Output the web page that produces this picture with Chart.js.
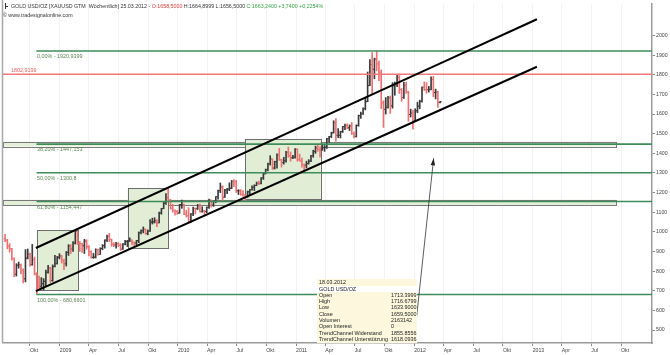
<!DOCTYPE html>
<html><head><meta charset="utf-8">
<script src="https://cdn.jsdelivr.net/npm/chart.js@4.4.1/dist/chart.umd.min.js"></script>
<style>html,body{margin:0;padding:0;background:#fff}#wrap{position:relative;width:670px;height:355px}</style>
</head><body><div id="wrap"><canvas id="c" width="670" height="355"></canvas></div>
<script>
// ---------- DATA ----------
const firstWeekFriday = '2008-07-18';   // weekly bars, one per week from here
const openP = [965,957,928,913,864,785,830,833,806,761,866,886,833,859,786,724,722,736,748,794,815,752,823,838,871,
878,854,838,896,928,913,942,1002,942,940,930,953,925,898,870,870,910,885,915,930,958,978,962,937,933,940,932,912,937,951,954,958,947,944,955,996,1006,1013,991,1003,1050,1051,1056,1046,1096,1118,1146,1175,1162,1120,1110,1104,
1096,1138,1140,1091,1082,1050,1092,1120,1118,1133,1103,1107,1104,1125,1162,1137,1156,1180,1210,1228,1177,1213,1218,1222,1256,1256,1209,1210,1190,1189,1181,1204,1215,1228,1236,1247,1246,1275,1296,1317,1346,1372,1325,1358,1393,1367,1353,1362,1405,1386,1377,1380,
1421,1368,1361,1342,1340,1348,1360,1388,1409,1428,1420,1418,1429,1429,1474,1486,1504,1556,1491,1492,1510,1536,1542,1530,1539,1501,1486,1542,1592,1601,1628,1663,1745,1852,1828,1880,1856,1813,1657,1624,1635,1682,1642,1745,1756,1788,1724,1684,1746,1712,1598,1606,
1566,1617,1640,1665,1736,1725,1724,1725,1776,1710,1713.3999,1658.5];
const highP = [988,962,940,916,868,838,846,836,812,910,913,892,936,872,792,775,767,762,805,829,820,832,881,875,889,
880,862,900,935,935,950,1007,1002,950,943,962,960,930,904,890,914,912,919,935,960,984,992,964,945,947,945,940,940,957,957,970,960,948,957,1000,1010,1025,1015,1010,1062,1070,1072,1062,1101,1120,1154,1195,1226,1165,1140,1112,1110,
1140,1162,1141,1110,1123,1093,1126,1122,1140,1141,1128,1110,1127,1167,1162,1157,1180,1213,1249,1235,1217,1222,1250,1262,1266,1262,1215,1216,1210,1190,1208,1216,1235,1240,1254,1259,1277,1300,1320,1350,1388,1372,1360,1398,1425,1370,1380,1410,1432,1407,1390,1424,
1423,1396,1376,1346,1360,1368,1390,1416,1437,1445,1435,1447,1440,1476,1487,1508,1566,1577,1526,1513,1537,1549,1550,1545,1557,1510,1545,1595,1610,1632,1682,1814,1877,1913,1885,1921,1870,1825,1668,1684,1690,1692,1760,1763,1802,1796,1730,1762,1763,1716,1625,1620,
1627,1661,1671,1739,1764,1760,1741,1790,1792,1727,1716.6799,1664.8999];
const lowP = [950,914,897,856,772,775,815,786,740,745,862,825,830,780,681,700,712,705,726,790,741,748,822,836,862,
841,808,826,880,890,900,938,936,900,895,890,912,877,866,865,867,881,885,909,917,950,951,927,925,917,925,905,910,933,925,950,935,930,935,945,990,995,988,985,1002,1040,1045,1026,1045,1090,1118,1140,1160,1116,1100,1085,1089,
1094,1120,1088,1076,1044,1048,1083,1091,1114,1100,1100,1088,1098,1120,1126,1130,1148,1167,1200,1160,1175,1195,1210,1220,1230,1200,1190,1186,1180,1157,1175,1190,1213,1210,1235,1240,1244,1267,1295,1310,1340,1318,1320,1325,1364,1330,1345,1355,1380,1360,1373,1376,
1360,1360,1330,1308,1326,1345,1358,1380,1400,1410,1380,1415,1410,1425,1455,1480,1503,1462,1480,1478,1506,1520,1525,1516,1496,1478,1483,1538,1578,1598,1621,1663,1745,1702,1780,1820,1770,1628,1532,1600,1630,1603,1630,1696,1740,1705,1665,1680,1705,1563,1585,1523,
1566,1607,1627,1660,1720,1706,1712,1723,1688,1677,1633.9,1656.5];
const closeP = [957,928,913,864,785,830,833,806,761,866,886,833,859,786,724,722,736,748,794,815,752,823,838,871,878,
854,838,896,928,913,942,1002,942,940,930,953,925,898,870,872,910,885,915,930,958,978,962,937,933,940,932,912,937,951,954,958,947,944,955,996,1006,1013,991,1003,1050,1051,1056,1046,1096,1118,1146,1175,1162,1120,1110,1104,1096,
1138,1140,1091,1082,1050,1092,1120,1118,1133,1103,1107,1104,1125,1162,1137,1156,1180,1210,1228,1177,1213,1218,1222,1256,1255,1209,1210,1190,1189,1181,1204,1215,1228,1236,1247,1246,1275,1296,1317,1346,1372,1325,1358,1393,1367,1353,1362,1405,1386,1377,1380,1421,
1368,1361,1342,1340,1348,1360,1388,1409,1428,1420,1418,1429,1432,1474,1486,1504,1556,1491,1492,1510,1536,1542,1530,1539,1501,1486,1542,1592,1601,1628,1663,1745,1852,1828,1880,1856,1813,1657,1624,1635,1682,1642,1745,1756,1788,1724,1684,1746,1712,1598,1606,1566,
1617,1640,1665,1736,1725,1724,1725,1776,1710,1712,1659.5,1663.24];

const fibLevels = [1920.9399, 1447.153, 1300.8, 1154.447, 680.6601];
const fibLabels = ['0,00% - 1920,9399', '38,20% - 1447,153', '50,00% - 1300,8', '61,80% - 1154,447', '100,00% - 680,6601'];
const fibStartDate = '2008-10-21';
const resistanceLevel = 1802.9199;
const resistanceLabel = '1802,9199';

// Fibonacci bands (price from/to) and their end date
const bandLow  = [1435, 1136];
const bandHigh = [1459, 1164];
const bandEndDate = '2013-09-15';

// consolidation boxes
const boxFrom = ['2008-10-22', '2009-07-30', '2010-07-27'];
const boxTo   = ['2009-02-26', '2009-12-01', '2011-03-18'];
const boxLow  = [702, 916, 1165];
const boxHigh = [1008, 1224, 1473];

// trend channel (dates and values)
const channelDates = ['2008-10-19', '2012-03-18', '2013-01-14'];
const channelUpper = [918, 1855.8556, 2083];
const channelLower = [698, 1618.0936, 1841];

// arrow from info box to the last bars
const arrowDates = ['2011-12-31', '2012-03-01'];
const arrowValues = [440, 1375];

// axis ticks
const yTickValues = [500,600,700,800,900,1000,1100,1200,1300,1400,1500,1600,1700,1800,1900,2000];
const quarterNames = ['Apr','Jul','Okt'];
const tickYears = [2008,2009,2010,2011,2012,2013];

// info box
const infoDate = '18.03.2012';
const infoTitle = 'GOLD USD/OZ';
const infoVolume = '2163142';
const infoOpenInterest = '0';
const infoTitleHeader = 'GOLD USD/OZ [XAUUSD GTM  Wöchentlich] 25.03.2012 - ';

// ---------- HELPERS ----------
const DAY0 = Date.UTC(2008,0,1);
function dayOf(s){ const p=s.split('-').map(Number); return (Date.UTC(p[0],p[1]-1,p[2])-DAY0)/86400000; }
const X_MIN = 190.6, X_MAX = 2195.5;
const firstDay = dayOf(firstWeekFriday) - 2;
const barX = closeP.map((_,i)=> firstDay + 7*i);

const qTicks = [], qLabel = {};
tickYears.forEach(yr=>{
  [[0,String(yr)],[3,quarterNames[0]],[6,quarterNames[1]],[9,quarterNames[2]]].forEach(([m,lab])=>{
    const d=(Date.UTC(yr,m,1)-DAY0)/86400000;
    if(d>=X_MIN && d<=X_MAX){ qTicks.push(d); qLabel[d]=lab; }
  });
});

const UP='#3a3a3a', DOWN='#f07070';
const barColors = closeP.map((c,i)=> c>=openP[i]?UP:DOWN);
const FONT='"Liberation Sans", Arial, sans-serif';

function lineDs(pts, color, width, order){
  return {type:'line', data:pts, borderColor:color, borderWidth:width, pointRadius:0, fill:false, tension:0, order:order};
}
const datasets = [];
datasets.push({
  type:'bar', data: barX.map((x,i)=>({x:x, y:[lowP[i], highP[i]]})),
  backgroundColor: barColors, borderWidth:0, barThickness:1, order:10
});
fibLevels.forEach(v=> datasets.push(lineDs([{x:dayOf(fibStartDate),y:v},{x:X_MAX,y:v}], '#3f8c5a', 1.6, 5)));
datasets.push(lineDs([{x:X_MIN,y:resistanceLevel},{x:X_MAX,y:resistanceLevel}], '#f07878', 1.6, 5));
datasets.push(lineDs(channelDates.map((d,i)=>({x:dayOf(d),y:channelUpper[i]})), '#000', 2, 1));
datasets.push(lineDs(channelDates.map((d,i)=>({x:dayOf(d),y:channelLower[i]})), '#000', 2, 1));
datasets.push(lineDs(arrowDates.map((d,i)=>({x:dayOf(d),y:arrowValues[i]})), '#333', 0.8, 1));

function fmtDe(v,dec){ return v.toFixed(dec).replace('.',','); }

const overlay = {
  id:'overlay',
  beforeDraw(chart){
    const {ctx}=chart;
    ctx.save(); ctx.fillStyle='#fff'; ctx.fillRect(0,0,chart.width,chart.height); ctx.restore();
  },
  beforeDatasetsDraw(chart){
    const {ctx, scales:{x,y}} = chart;
    ctx.save();
    bandLow.forEach((lo,i)=>{
      const x0=x.getPixelForValue(X_MIN), x1=x.getPixelForValue(dayOf(bandEndDate));
      const y0=y.getPixelForValue(bandHigh[i]), y1=y.getPixelForValue(lo);
      ctx.fillStyle='#e4efd9'; ctx.fillRect(x0,y0,x1-x0,y1-y0);
      ctx.strokeStyle='#7a7a7a'; ctx.lineWidth=1; ctx.strokeRect(Math.round(x0)+0.5,Math.round(y0)+0.5,Math.round(x1-x0),Math.round(y1-y0));
    });
    boxFrom.forEach((f,i)=>{
      const x0=x.getPixelForValue(dayOf(f)), x1=x.getPixelForValue(dayOf(boxTo[i]));
      const y0=y.getPixelForValue(boxHigh[i]), y1=y.getPixelForValue(boxLow[i]);
      ctx.fillStyle='#e1eed5'; ctx.fillRect(x0,y0,x1-x0,y1-y0);
      ctx.strokeStyle='#6e6e6e'; ctx.lineWidth=1; ctx.strokeRect(Math.round(x0)+0.5,Math.round(y0)+0.5,Math.round(x1-x0),Math.round(y1-y0));
    });
    ctx.restore();
  },
  afterDatasetDraw(chart,args){
    if(args.index!==0) return;
    const {ctx, scales:{x,y}, chartArea:a} = chart;
    ctx.save();
    ctx.beginPath(); ctx.rect(a.left,a.top,a.right-a.left,a.bottom-a.top); ctx.clip();
    barX.forEach((d,i)=>{
      const px=x.getPixelForValue(d);
      ctx.fillStyle=barColors[i];
      ctx.fillRect(px-1.5, y.getPixelForValue(openP[i])-0.5, 1, 1);
      ctx.fillRect(px+0.5, y.getPixelForValue(closeP[i])-0.5, 1, 1);
    });
    ctx.restore();
  },
  afterDraw(chart){
    const {ctx, scales:{x,y}, chartArea:a} = chart;
    ctx.save();
    ctx.strokeStyle='#a8a8a8'; ctx.lineWidth=1.5;
    ctx.beginPath(); ctx.moveTo(2.5,0); ctx.lineTo(2.5,a.bottom); ctx.stroke();
    // arrow head
    const tx=x.getPixelForValue(dayOf(arrowDates[1])), ty=y.getPixelForValue(arrowValues[1]);
    const sx=x.getPixelForValue(dayOf(arrowDates[0])), sy=y.getPixelForValue(arrowValues[0]);
    const ang=Math.atan2(ty-sy,tx-sx);
    ctx.fillStyle='#222'; ctx.beginPath();
    ctx.moveTo(tx,ty);
    ctx.lineTo(tx-7*Math.cos(ang)+2.2*Math.sin(ang), ty-7*Math.sin(ang)-2.2*Math.cos(ang));
    ctx.lineTo(tx-7*Math.cos(ang)-2.2*Math.sin(ang), ty-7*Math.sin(ang)+2.2*Math.cos(ang));
    ctx.closePath(); ctx.fill();
    // fib labels
    ctx.font='5.4px '+FONT; ctx.textBaseline='middle'; ctx.textAlign='left';
    ctx.fillStyle='#5a8450';
    fibLevels.forEach((v,i)=>{
      ctx.fillText(fibLabels[i], x.getPixelForValue(dayOf(fibStartDate))+0.5, y.getPixelForValue(v)+5.5);
    });
    ctx.fillStyle='#ee6060';
    ctx.fillText(resistanceLabel, 11, y.getPixelForValue(resistanceLevel)-3.8);
    // header
    ctx.font='5.3px '+FONT;
    const n=closeP.length-1;
    const chg=closeP[n]-closeP[n-1];
    const segs=[[infoTitleHeader,'#333'],['O:'+fmtDe(openP[n],4),'#e53935'],[' H:'+fmtDe(highP[n],4)+' L:'+fmtDe(lowP[n],4)+' ','#333'],
      ['C:'+fmtDe(closeP[n],4)+' +'+fmtDe(chg,4)+' +'+fmtDe(chg/closeP[n-1]*100,4)+'%','#35a845']];
    let hx=11;
    segs.forEach(([t,c])=>{ ctx.fillStyle=c; ctx.fillText(t,hx,6.5); hx+=ctx.measureText(t).width; });
    ctx.fillStyle='#333'; ctx.fillRect(5,3,1,6); ctx.fillRect(5,6,3,1);
    ctx.fillText('© www.tradesignalonline.com', 3, 16);
    // info box
    const bx=317, by=279, bw=100, bh=a.bottom-279;
    ctx.fillStyle='#fcf7dd'; ctx.fillRect(bx,by,bw,bh);
    ctx.fillStyle='#ffffff'; ctx.fillRect(bx,286,bw,6.2);
    const k=closeP.length-2;
    const labels=['Open','High','Low','Close','Volumen','Open Interest','TrendChannel Widerstand','TrendChannel Unterstützung'];
    const vals=[openP[k].toFixed(4),highP[k].toFixed(4),lowP[k].toFixed(4),closeP[k].toFixed(4),infoVolume,infoOpenInterest,channelUpper[1].toFixed(4),channelLower[1].toFixed(4)];
    ctx.font='5.4px '+FONT; ctx.fillStyle='#222';
    ctx.fillText(infoDate, bx+2, 282.8);
    ctx.fillText(infoTitle, bx+2, 289.1);
    labels.forEach((l,i)=>{
      const yy=295.4+i*6.3;
      ctx.fillText(l,bx+2,yy);
      ctx.fillText(vals[i],391,yy);
    });
    ctx.restore();
  }
};

new Chart(document.getElementById('c'), {
  type:'bar',
  data:{datasets},
  options:{
    responsive:false, animation:false, events:[],
    layout:{padding:{left:3,top:3,right:0,bottom:0}},
    plugins:{legend:{display:false}, tooltip:{enabled:false}},
    scales:{
      x:{type:'linear', min:X_MIN, max:X_MAX, offset:false,
        afterBuildTicks(s){ s.ticks = qTicks.map(v=>({value:v})); },
        afterFit(s){ s.height=12; },
        grid:{color:'#f2f2f2', lineWidth:1, drawTicks:true, tickLength:3, tickColor:'#888', offset:false},
        border:{color:'#9a9a9a', width:1.5},
        ticks:{autoSkip:false, maxRotation:0, align:'start', padding:1, color:'#444', font:{family:FONT, size:5.2},
          callback:(v)=>qLabel[v]}
      },
      y:{type:'linear', position:'right', min:434, max:2160,
        afterBuildTicks(s){ s.ticks = yTickValues.map(v=>({value:v})); },
        afterFit(s){ s.width=18; },
        grid:{display:true, drawOnChartArea:false, tickLength:3, tickColor:'#888'},
        border:{color:'#9a9a9a', width:1.5},
        ticks:{padding:1, color:'#444', font:{family:FONT, size:5.2}, callback:(v)=>String(v)}
      }
    }
  },
  plugins:[overlay]
});
</script>
</body></html>
